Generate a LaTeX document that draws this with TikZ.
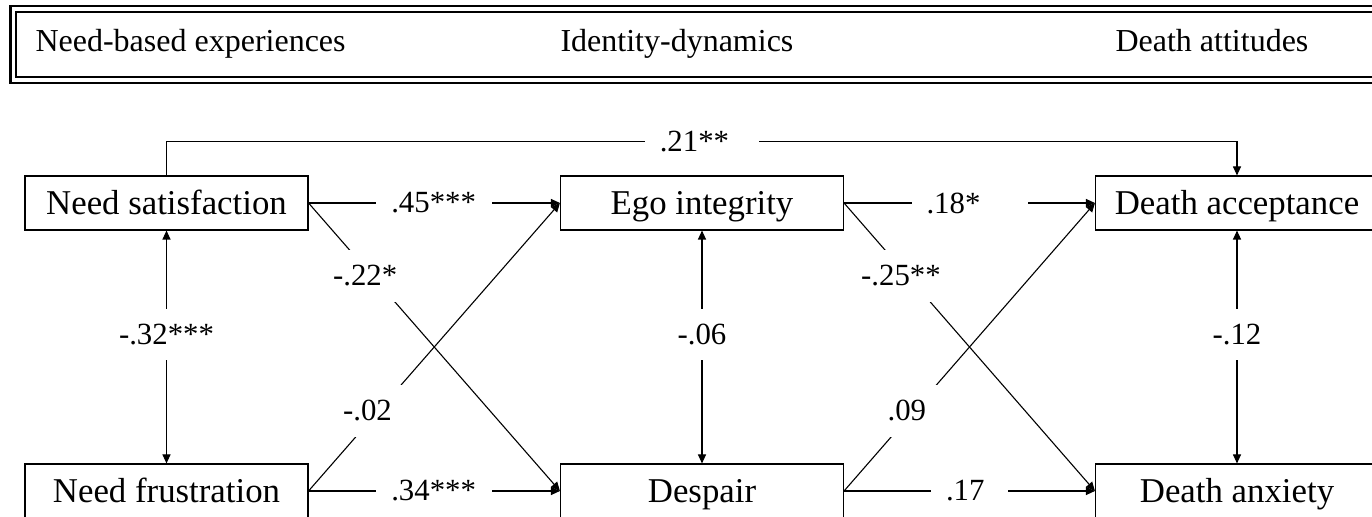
\documentclass[tikz,border=0pt]{standalone}
\usepackage{fontspec}
\setmainfont{Liberation Serif}
\usetikzlibrary{arrows.meta}
\begin{document}
\begin{tikzpicture}[x=0.5pt,y=-0.5pt,line width=0.55pt,
  arr/.style={-{Triangle[length=4.5pt,width=4pt]}},
  biarr/.style={{Triangle[length=4.5pt,width=4pt]}-{Triangle[length=4.5pt,width=4pt]}},
  box/.style={draw, minimum width=141.5pt, minimum height=27pt, inner sep=0pt,
    font=\fontsize{17.4pt}{20pt}\selectfont, text height=15.66pt, text depth=4.35pt},
  lab/.style={fill=white, inner sep=0pt, font=\fontsize{15.4pt}{18pt}\selectfont},
  hlab/.style={lab, text width=#1, align=left, inner xsep=7.5pt, inner ysep=2pt},
  vlab/.style={lab, minimum height=25.5pt, inner xsep=2pt},
  dlab/.style={lab, minimum height=26pt, minimum width=40pt},
  htext/.style={inner sep=0pt, font=\fontsize{16pt}{19pt}\selectfont, anchor=base west}]
\useasboundingbox (0,0) rectangle (1372,517);
\clip (0,0) rectangle (1372,517);
% header
\draw[line width=1.15pt] (10.5,6.2) rectangle (1420,83);
\draw[line width=0.8pt] (16,12) rectangle (1420,77);
\node[htext] (h1) at (35,51.7) {Need-based experiences};
\node[htext] (h2) at (560,51.7) {Identity-dynamics};
\node[htext] (h3) at (1115,51.7) {Death attitudes};
% boxes
\node[box] (ns) at (166.5,203) {Need satisfaction};
\node[box] (ei) at (702,203) {Ego integrity};
\node[box] (da) at (1237,203) {Death acceptance};
\node[box] (nf) at (166.5,491) {Need frustration};
\node[box] (dp) at (702,491) {Despair};
\node[box] (dx) at (1237,491) {Death anxiety};
% connectors
\draw[arr] (ns.north) -- ++(0,-34) -| node[pos=0.25, hlab=42pt] {.21**} (da.north);
\draw[arr] (ns.east) -- node[hlab=43pt] {.45***} (ei.west);
\draw[arr] (ns.east) -- node[dlab, pos=0.253, xshift=-3.5pt] {-.22*} (dp.west);
\draw[biarr] (ns.south) -- node[vlab, pos=0.447] {-.32***} (nf.north);
\draw[arr] (nf.east) -- node[dlab, pos=0.278, xshift=-5.5pt] {-.02} (ei.west);
\draw[arr] (nf.east) -- node[hlab=43pt] {.34***} (dp.west);
\draw[biarr] (ei.south) -- node[vlab, pos=0.447] {-.06} (dp.north);
\draw[arr] (ei.east) -- node[hlab=43pt] {.18*} (da.west);
\draw[arr] (ei.east) -- node[dlab, pos=0.253, xshift=-3.3pt] {-.25**} (dx.west);
\draw[arr] (dp.east) -- node[dlab, pos=0.278, xshift=-3.5pt] {.09} (da.west);
\draw[arr] (dp.east) -- node[hlab=23.5pt] {.17} (dx.west);
\draw[biarr] (da.south) -- node[vlab, pos=0.447] {-.12} (dx.north);
\end{tikzpicture}
\end{document}
